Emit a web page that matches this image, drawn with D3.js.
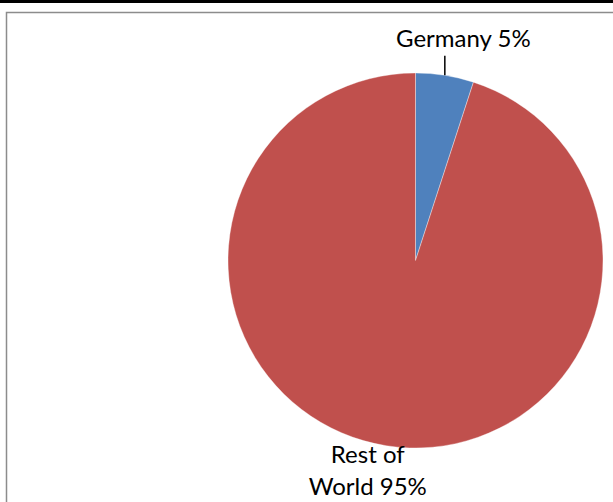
<!DOCTYPE html>
<html><head><meta charset="utf-8">
<script src="https://cdn.jsdelivr.net/npm/d3@7"></script>
<style>html,body{margin:0;padding:0;background:#fff;overflow:hidden}</style>
</head><body>
<svg id="c" width="613" height="502"></svg>
<script>
const categories = ["Germany", "Rest of World"];
const values = [5, 95];
const colors = ["#4F81BD", "#C0504D"];

const svg = d3.select("#c");
svg.append("rect").attr("x",0).attr("y",0).attr("width",613).attr("height",3).attr("fill","#000");
svg.append("rect").attr("x",6.5).attr("y",12.5).attr("width",620).attr("height",500)
  .attr("fill","#fff").attr("stroke","#8c8c8c").attr("stroke-width",1.5);

const cx = 415.5, cy = 260.5, r = 187.5;
const data = categories.map((c,i)=>({name:c, value:values[i], color:colors[i]}));
const pie = d3.pie().value(d=>d.value).sort(null);
const arc = d3.arc().innerRadius(0).outerRadius(r);
const arcs = pie(data);
const g = svg.append("g").attr("transform",`translate(${cx},${cy})`);
g.selectAll("path").data(arcs).join("path")
  .attr("d",arc).attr("fill",d=>d.data.color)
  .attr("stroke","#fff").attr("stroke-width",0.6).attr("stroke-opacity",0.6);

const font = "Lato, 'Open Sans', sans-serif";
const fs = 24;
// Germany label with leader line
const a0 = arcs[0];
const mid0 = (a0.startAngle + a0.endAngle)/2;
const lx = Math.sin(mid0)*r;
const ly = -Math.cos(mid0)*r;
g.append("line").attr("x1",lx).attr("x2",lx).attr("y1",ly).attr("y2",ly-19.5)
  .attr("stroke","#000").attr("stroke-width",1.5);
g.append("text").attr("x",lx+18.5).attr("y",ly-28.5).attr("text-anchor","middle")
  .attr("font-family",font).attr("font-size",fs).attr("fill","#000")
  .text(`${categories[0]} ${values[0]}%`);
// Rest of World label
const t = g.append("text").attr("text-anchor","middle")
  .attr("font-family",font).attr("font-size",fs).attr("fill","#000");
t.append("tspan").attr("x",-47.75).attr("y",202.2).text("Rest of");
t.append("tspan").attr("x",-47.75).attr("y",234.5).text(`World ${values[1]}%`);
</script>
</body></html>
